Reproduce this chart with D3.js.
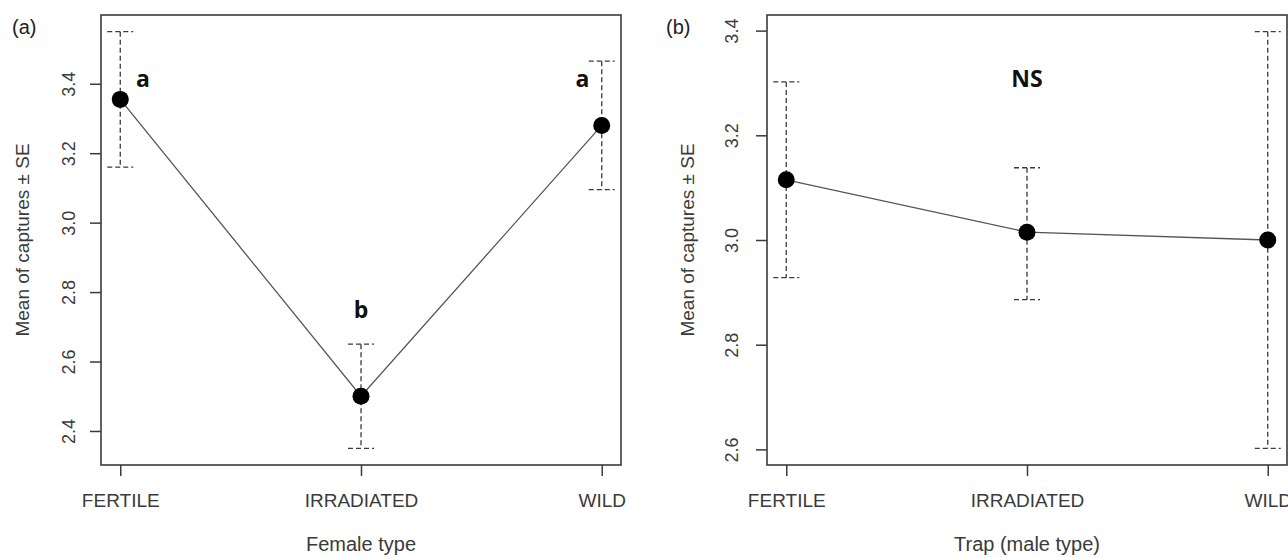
<!DOCTYPE html>
<html>
<head>
<meta charset="utf-8">
<script src="https://cdn.jsdelivr.net/npm/d3@7"></script>
<style>
  body { margin: 0; background: #fff; }
  svg { display: block; font-family: "Liberation Sans", Arial, sans-serif; }
</style>
</head>
<body>
<svg id="chart" width="1288" height="558"></svg>
<script>
"use strict";

// categories on the x axis (same for both panels)
const categories = ["FERTILE", "IRRADIATED", "WILD"];

// panel (a): female type
const femaleMeans = [3.355, 2.50, 3.28];
const femaleLower = [3.16, 2.35, 3.095];
const femaleUpper = [3.55, 2.65, 3.465];
const femaleTicks = [2.4, 2.6, 2.8, 3.0, 3.2, 3.4];
const femaleLetters = ["a", "b", "a"];
const femaleLetterX = [1.094, 2.0, 2.92];
const femaleLetterY = [3.417, 2.75, 3.417];

// panel (b): trap (male type)
const maleMeans = [3.115, 3.015, 3.0];
const maleLower = [2.928, 2.886, 2.602];
const maleUpper = [3.302, 3.138, 3.398];
const maleTicks = [2.6, 2.8, 3.0, 3.2, 3.4];
const maleLetters = ["NS"];
const maleLetterX = [2.0];
const maleLetterY = [3.31];

const svg = d3.select("#chart");
const ink = "#3a3a3a";

// R style axis extension: 4% each side
function padded(lo, hi) {
    const d = (hi - lo) * 0.04;
    return [lo - d, hi + d];
}

function drawPanel(opts) {
    const left = opts.left, top = 15, width = 520, height = 450;
    const g = svg.append("g").attr("transform", "translate(" + left + "," + top + ")");

    const x = d3.scaleLinear()
        .domain(padded(1, categories.length))
        .range([0, width]);
    const y = d3.scaleLinear()
        .domain(padded(d3.min(opts.lower), d3.max(opts.upper)))
        .range([height, 0]);

    // y axis
    const yAxis = g.append("g")
        .call(d3.axisLeft(y).tickValues(opts.ticks).tickSize(11).tickFormat(d3.format(".1f")));
    yAxis.select(".domain").remove();
    yAxis.selectAll("line").attr("stroke", ink).attr("stroke-width", 1.5);
    yAxis.selectAll("text")
        .attr("x", null).attr("dy", null)
        .attr("transform", "translate(" + (-opts.tickLabelOffset) + ",0) rotate(-90)")
        .attr("text-anchor", "middle")
        .attr("dominant-baseline", "central")
        .attr("fill", ink)
        .style("font-size", "18px");

    // x axis
    const xAxis = g.append("g")
        .attr("transform", "translate(0," + height + ")")
        .call(d3.axisBottom(x).tickValues(d3.range(1, categories.length + 1))
            .tickSize(11).tickFormat(i => categories[i - 1]));
    xAxis.select(".domain").remove();
    xAxis.selectAll("line").attr("stroke", ink).attr("stroke-width", 1.5);
    xAxis.selectAll("text")
        .attr("y", 35).attr("dy", null)
        .attr("dominant-baseline", "central")
        .attr("fill", ink)
        .style("font-size", "19px");

    // plot box
    g.append("rect")
        .attr("width", width).attr("height", height)
        .attr("fill", "none").attr("stroke", ink).attr("stroke-width", 1.6);

    const rows = opts.means.map((m, i) => ({ i: i + 1, m: m, lo: opts.lower[i], hi: opts.upper[i] }));

    // error bars, dashed like lty=2
    const bars = g.append("g")
        .attr("stroke", ink).attr("stroke-width", 1.3)
        .attr("stroke-dasharray", "5,3").attr("fill", "none");
    rows.forEach(r => {
        bars.append("line")
            .attr("x1", x(r.i)).attr("x2", x(r.i))
            .attr("y1", y(r.hi)).attr("y2", y(r.lo));
        [r.hi, r.lo].forEach(v => {
            bars.append("line")
                .attr("x1", x(r.i) - 13).attr("x2", x(r.i) + 13)
                .attr("y1", y(v)).attr("y2", y(v));
        });
    });

    // connecting line
    g.append("path")
        .datum(rows)
        .attr("fill", "none").attr("stroke", "#555").attr("stroke-width", 1.3)
        .attr("d", d3.line().x(d => x(d.i)).y(d => y(d.m)));

    // points
    g.selectAll("circle.pt")
        .data(rows)
        .enter()
        .append("circle")
        .attr("class", "pt")
        .attr("cx", d => x(d.i))
        .attr("cy", d => y(d.m))
        .attr("r", 8.5)
        .attr("fill", "#000");

    // significance letters
    opts.letters.forEach((t, i) => {
        g.append("text")
            .attr("x", x(opts.letterX[i]))
            .attr("y", y(opts.letterY[i]))
            .attr("text-anchor", "middle")
            .attr("dominant-baseline", "central")
            .attr("font-family", "'Open Sans', 'DejaVu Sans', sans-serif")
            .attr("font-weight", "bold")
            .style("font-size", "23px")
            .attr("fill", "#111")
            .text(t);
    });

    // axis titles
    g.append("text")
        .attr("transform", "translate(" + (-opts.yTitleOffset) + "," + (height / 2) + ") rotate(-90)")
        .attr("text-anchor", "middle")
        .attr("dominant-baseline", "central")
        .attr("fill", ink)
        .style("font-size", "19px")
        .text("Mean of captures \u00b1 SE");

    g.append("text")
        .attr("x", width / 2).attr("y", 529)
        .attr("text-anchor", "middle")
        .attr("dominant-baseline", "central")
        .attr("fill", ink)
        .style("font-size", "20px")
        .text(opts.xTitle);

    // panel tag
    svg.append("text")
        .attr("x", opts.tagX).attr("y", 27)
        .attr("dominant-baseline", "central")
        .attr("fill", "#222")
        .style("font-size", "20px")
        .text(opts.tag);
}

drawPanel({
    left: 101, tag: "(a)", tagX: 12, xTitle: "Female type",
    means: femaleMeans, lower: femaleLower, upper: femaleUpper, ticks: femaleTicks,
    letters: femaleLetters, letterX: femaleLetterX, letterY: femaleLetterY,
    tickLabelOffset: 32, yTitleOffset: 79
});

drawPanel({
    left: 767, tag: "(b)", tagX: 666, xTitle: "Trap (male type)",
    means: maleMeans, lower: maleLower, upper: maleUpper, ticks: maleTicks,
    letters: maleLetters, letterX: maleLetterX, letterY: maleLetterY,
    tickLabelOffset: 35, yTitleOffset: 80
});
</script>
</body>
</html>
